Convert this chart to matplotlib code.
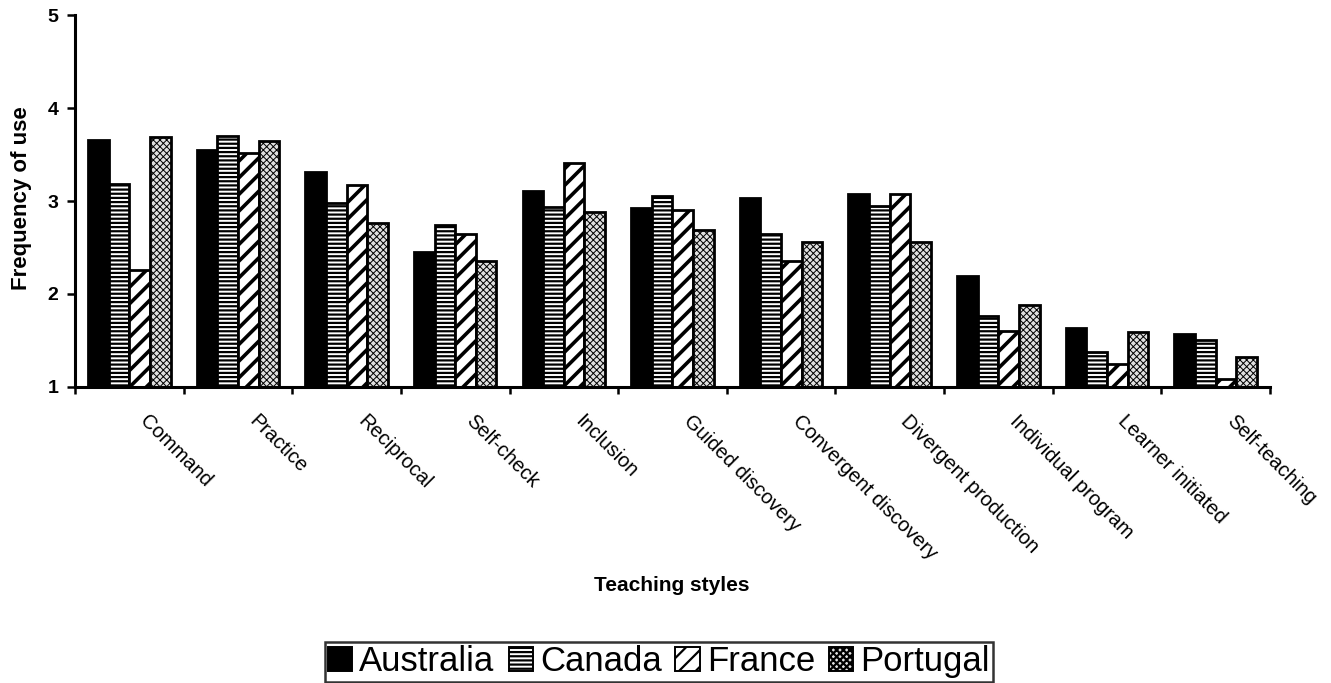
import numpy as np
import matplotlib
matplotlib.use("Agg")
import matplotlib.pyplot as plt
from matplotlib.patches import Patch

plt.rcParams['font.family'] = ['Liberation Sans', 'DejaVu Sans']
plt.rcParams['hatch.linewidth'] = 1.6

styles = ['Command', 'Practice', 'Reciprocal', 'Self-check', 'Inclusion',
          'Guided discovery', 'Convergent discovery', 'Divergent production',
          'Individual program', 'Learner initiated', 'Self-teaching']
countries = ['Australia', 'Canada', 'France', 'Portugal']

australia = [3.66, 3.55, 3.31, 2.45, 3.11, 2.92, 3.03, 3.08, 2.19, 1.63, 1.57]
canada = [3.18, 3.70, 2.98, 2.74, 2.94, 3.05, 2.65, 2.95, 1.76, 1.38, 1.51]
france = [2.26, 3.52, 3.17, 2.65, 3.41, 2.90, 2.36, 3.08, 1.60, 1.25, 1.09]
portugal = [3.69, 3.64, 2.76, 2.36, 2.88, 2.69, 2.56, 2.56, 1.88, 1.59, 1.32]

# fill / hatch per country, black and white print style
looks = [
    dict(facecolor='black', hatch=None),
    dict(facecolor='white', hatch='----'),
    dict(facecolor='white', hatch='//'),
    dict(facecolor='#e0e0e0', hatch='xxxxx'),
]
hatch_lw = [1.0, 1.6, 2.6, 0.7]


def set_hatch_lw(patch, lw):
    if hasattr(patch, 'set_hatch_linewidth'):
        patch.set_hatch_linewidth(lw)


fig = plt.figure(figsize=(13.31, 6.83), dpi=100)
ax = fig.add_axes([0.0563, 0.4334, 0.8979, 0.5446])

x = np.arange(len(styles))
w = 0.19
for k, vals in enumerate([australia, canada, france, portugal]):
    vals = np.array(vals)
    bars = ax.bar(x + (k - 1.5) * w, vals - 1, bottom=1, width=w,
                  edgecolor='black', linewidth=2.0, **looks[k])
    for b in bars:
        set_hatch_lw(b, hatch_lw[k])

ax.set_xlim(-0.5, len(styles) - 0.5)
ax.set_ylim(1, 5)
ax.set_yticks([1, 2, 3, 4, 5])
ax.set_xticks(np.arange(len(styles) + 1) - 0.5)
ax.set_xticklabels([])
ax.tick_params(axis='y', direction='out', length=6, width=1.8, pad=6,
               labelsize=14)
ax.tick_params(axis='x', direction='out', length=5, width=1.8)
for lab in ax.get_yticklabels():
    lab.set_fontweight('bold')

for side in ['top', 'right']:
    ax.spines[side].set_visible(False)
for side in ['left', 'bottom']:
    ax.spines[side].set_linewidth(2.2)

# category names hang diagonally under each group
for i, name in enumerate(styles):
    ax.text(i + 0.13, -0.083, name, transform=ax.get_xaxis_transform(),
            rotation=-45, rotation_mode='anchor', ha='left', va='center',
            fontsize=14.5)

fig.text(0.505, 0.143, 'Teaching styles', ha='center', va='center',
         fontsize=15, fontweight='bold')
fig.text(0.0165, 0.71, 'Frequency of use', ha='center', va='center',
         rotation=90, fontsize=16, fontweight='bold')

handles = [Patch(edgecolor='black', linewidth=1.4, **lk) for lk in looks]
for h, lw in zip(handles, hatch_lw):
    set_hatch_lw(h, lw)
leg = fig.legend(handles, countries, loc='center', ncol=4,
                 bbox_to_anchor=(0.495, 0.031), fontsize=25,
                 frameon=True, fancybox=False, edgecolor='black',
                 handlelength=0.7, handleheight=0.7, handletextpad=0.2,
                 columnspacing=0.4, borderpad=0.1, borderaxespad=0)
leg.get_frame().set_linewidth(1.8)

fig.savefig('out.png', dpi=100)
